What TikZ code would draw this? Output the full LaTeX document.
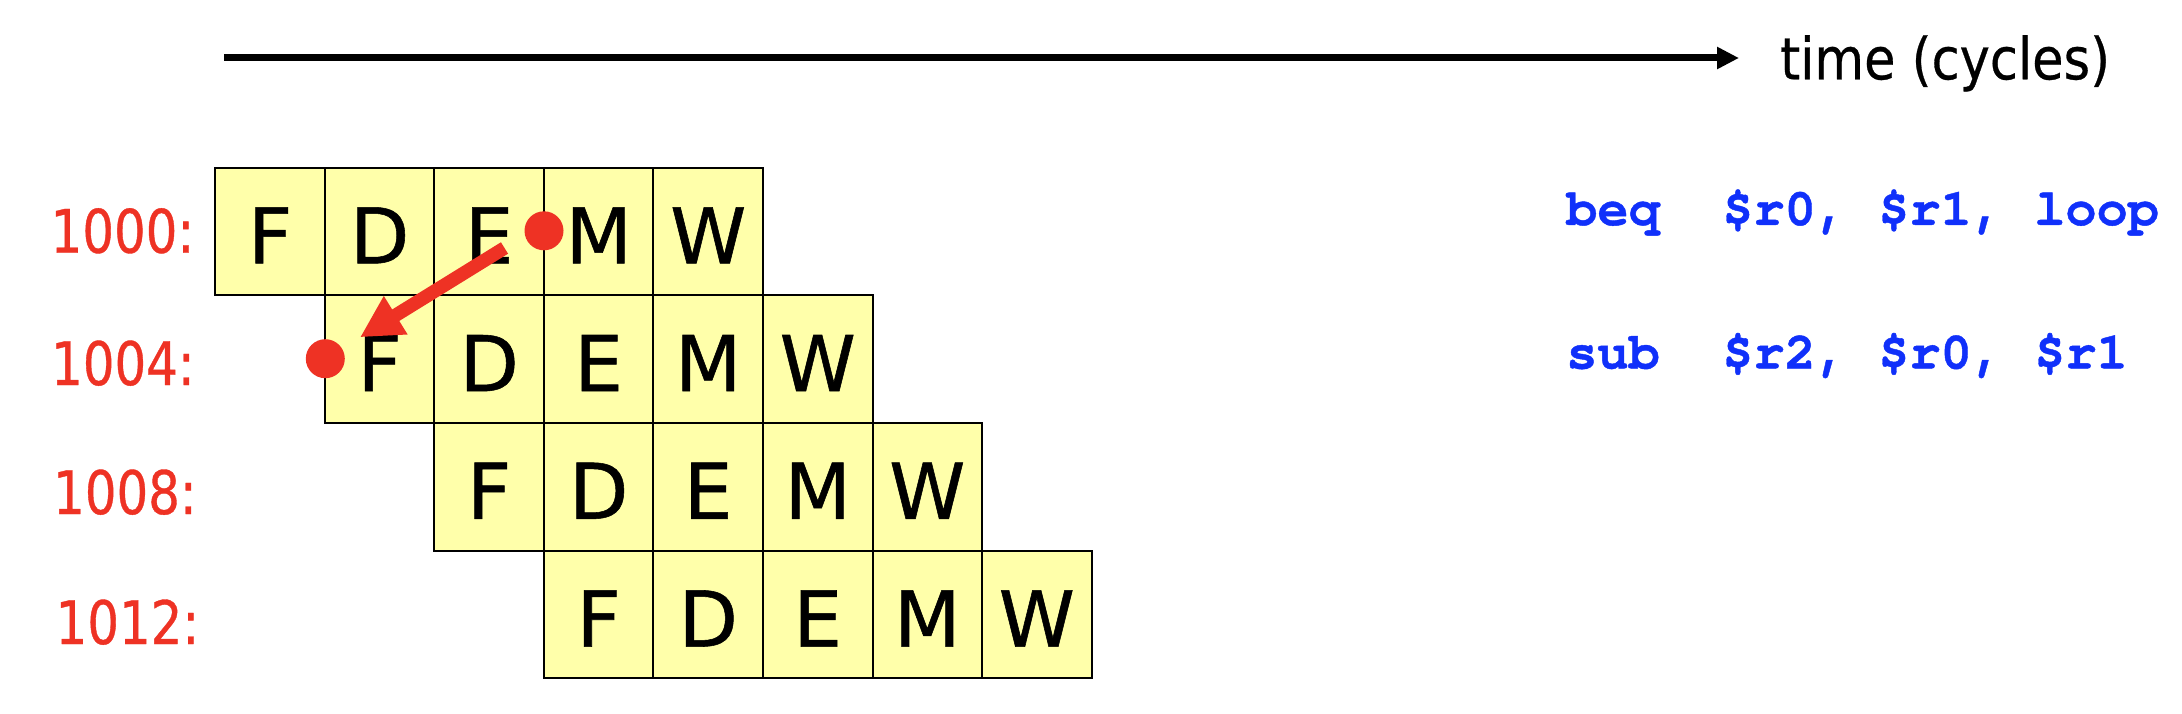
\documentclass[tikz,border=0pt]{standalone}
\usepackage{fontspec}
\setmainfont{DejaVu Sans}
\newfontfamily\cellsans[FakeBold=0.7]{DejaVu Sans}
\newfontfamily\narrowsans[FakeStretch=0.88,FakeBold=0.5]{DejaVu Sans}
\newfontfamily\addrsans[FakeStretch=0.83,FakeBold=0.6]{DejaVu Sans}
\newfontfamily\codefont[FakeBold=0.8]{TeX Gyre Cursor}
\usetikzlibrary{arrows.meta}
\definecolor{cellyellow}{RGB}{255,255,170}
\definecolor{hazred}{RGB}{238,50,36}
\definecolor{codeblue}{RGB}{16,48,250}
\tikzset{
  cell/.style={draw=black, line width=2pt, fill=cellyellow,
    minimum width=109.5pt, minimum height=127.7pt, inner sep=0pt, outer sep=0pt,
    text height=64pt, text depth=0pt, font=\cellsans\fontsize{77}{80}\selectfont},
  addrlbl/.style={anchor=base west, inner sep=0pt, text=hazred,
    font=\addrsans\fontsize{60}{66}\selectfont},
  codelbl/.style={anchor=base west, inner sep=0pt, text=codeblue,
    font=\codefont\bfseries\fontsize{52}{60}\selectfont},
  timelbl/.style={anchor=base west, inner sep=0pt, text=black,
    font=\narrowsans\fontsize{58}{64}\selectfont},
  hazdot/.style={circle, fill=hazred, minimum size=39pt, inner sep=0pt, outer sep=0pt},
  hazarrow/.style={draw=hazred, line width=13.5pt, -{Triangle[length=42pt,width=42pt]}},
  timearrow/.style={draw=black, line width=7pt, -{Triangle[length=22pt,width=21pt]}}
}
\begin{document}
\begin{tikzpicture}[x=1pt, y=-1pt]
\useasboundingbox (0,0) rectangle (2182,714);
% time axis
\coordinate (ts) at (224,58);
\coordinate (te) at (1739,58);
\draw[timearrow] (ts) -- (te);
\node[timelbl] (tl) at (1780,79.3) {time (cycles)};
% pipeline cells
\foreach \r in {0,...,3}{
  \foreach \L [count=\i from 0] in {F,D,E,M,W}{
    \node[cell] (c\r-\i) at ({215.4+109.52*(\r+\i)+54.76}, {167.6+127.7*\r+63.85}) {\L};
  }
}
% address labels
\node[addrlbl] (a0) at (50.5,252.7) {1000:};
\node[addrlbl] (a1) at (51,385) {1004:};
\node[addrlbl] (a2) at (53,514) {1008:};
\node[addrlbl] (a3) at (55.5,644) {1012:};
% instructions
\node[codelbl] (i0) at (1566,225) {beq\ \ \$r0, \$r1, loop};
\node[codelbl] (i1) at (1566,368.5) {sub\ \ \$r2, \$r0, \$r1};
% hazard arrow and dots
\coordinate (hs) at (504.5,248);
\coordinate (he) at (360,337.3);
\draw[hazarrow] (hs) -- (he);
\node[hazdot] (d0) at (544,230.8) {};
\node[hazdot] (d1) at (325.3,358.7) {};
\end{tikzpicture}
\end{document}
